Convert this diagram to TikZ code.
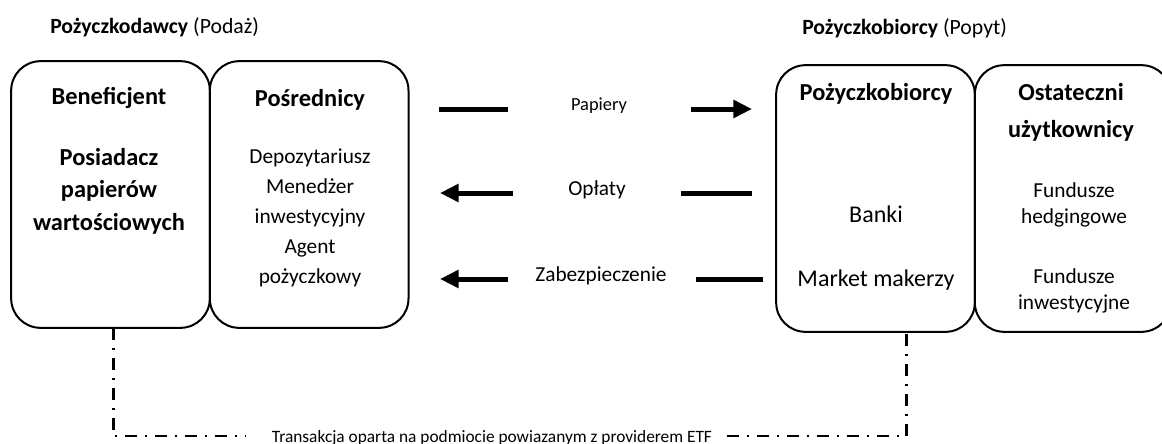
\documentclass[tikz,border=0pt]{standalone}
\usepackage{fontspec}
\setmainfont{Carlito}
\usetikzlibrary{arrows.meta, positioning}

\begin{document}
\begin{tikzpicture}[
    x=0.75pt, y=-0.75pt,
    panel/.style={draw, line width=1.5pt, rounded corners=22pt, outer sep=0pt, minimum width=149pt, minimum height=200pt},
    head/.style={font=\fontsize{18.3pt}{24.2pt}\selectfont\bfseries, align=center, anchor=base},
    item/.style={font=\fontsize{16pt}{22.5pt}\selectfont, align=center, anchor=base},
    big/.style={item, font=\fontsize{18pt}{22.5pt}\selectfont},
    side/.style={font=\fontsize{16.3pt}{19pt}\selectfont, anchor=base west, inner xsep=0pt},
    flow/.style={line width=3.75pt},
    flowtip/.style={flow, -{Triangle[length=14pt, width=13pt]}},
    link/.style={line width=2pt, dash pattern=on 9pt off 6pt on 1.5pt off 6pt}
]
    \useasboundingbox (0,0) rectangle (1162,443);

    % Sides
    \node[side] (lend) at (50,33) {\textbf{Pożyczkodawcy} (Podaż)};
    \node[side] (borr) at (802,34) {\textbf{Pożyczkobiorcy} (Popyt)};

    % Panels
    \node[panel] (benef) at (110.5,194.5) {};
    \node[panel] (posr) [right=0pt of benef] {};
    \node[panel] (pozycz) at (875.5,198.5) {};
    \node[panel, minimum width=147pt] (ostat) [right=0pt of pozycz] {};

    % Panel texts (multi-line nodes sit on their last line)
    \node[head] (benef-t) at (109,104) {Beneficjent};
    \node[head] (benef-b) at (109,230) {Posiadacz\\papierów\\wartościowych};
    \node[head] (posr-t) at (310,106) {Pośrednicy};
    \node[item] (posr-b) at (310,283) {Depozytariusz\\Menedżer\\inwestycyjny\\Agent\\pożyczkowy};
    \node[head] (pozycz-t) at (876,100) {Pożyczkobiorcy};
    \node[big] (banki) at (876,222) {Banki};
    \node[big] (market) at (876,286) {Market makerzy};
    \node[head] (ostat-t) at (1071,137) {Ostateczni\\[3.5pt]użytkownicy};
    \node[item] (hedge) at (1074,223) {Fundusze\\[-3pt]hedgingowe};
    \node[item] (invest) at (1074,309) {Fundusze\\[-3pt]inwestycyjne};

    % Flows between the sides
    \node[item, font=\fontsize{13.8pt}{16pt}\selectfont] (papiery) at (599,110.7) {Papiery};
    \node[item] (oplaty) at (597,195) {Opłaty};
    \node[item] (zabezp) at (601,281.7) {Zabezpieczenie};

    \coordinate (pap-a) at (439,109);
    \coordinate (pap-b) at (508,109);
    \coordinate (pap-c) at (691,109);
    \coordinate (pap-d) at (752,109);
    \coordinate (opl-a) at (440,193);
    \coordinate (opl-b) at (513,193);
    \coordinate (opl-c) at (681,193);
    \coordinate (opl-d) at (752,193);
    \coordinate (zab-a) at (440,279);
    \coordinate (zab-b) at (508,279);
    \coordinate (zab-c) at (696,279);
    \coordinate (zab-d) at (763,279);

    \draw[flow] (pap-a) -- (pap-b);
    \draw[flowtip] (pap-c) -- (pap-d);
    \draw[flowtip] (opl-b) -- (opl-a);
    \draw[flow] (opl-c) -- (opl-d);
    \draw[flowtip] (zab-b) -- (zab-a);
    \draw[flow] (zab-c) -- (zab-d);

    % Link at the bottom
    \node[font=\fontsize{13pt}{15pt}\selectfont, anchor=base, text depth=0pt, inner xsep=11pt] (trans) at (492,442)
        {Transakcja oparta na podmiocie powiazanym z providerem ETF};
    \draw[link] ([xshift=2pt]benef.south) |- ([xshift=-8pt]trans.west);
    \draw[link] (trans.east) -| ([xshift=23.25pt]pozycz.south);
\end{tikzpicture}
\end{document}
